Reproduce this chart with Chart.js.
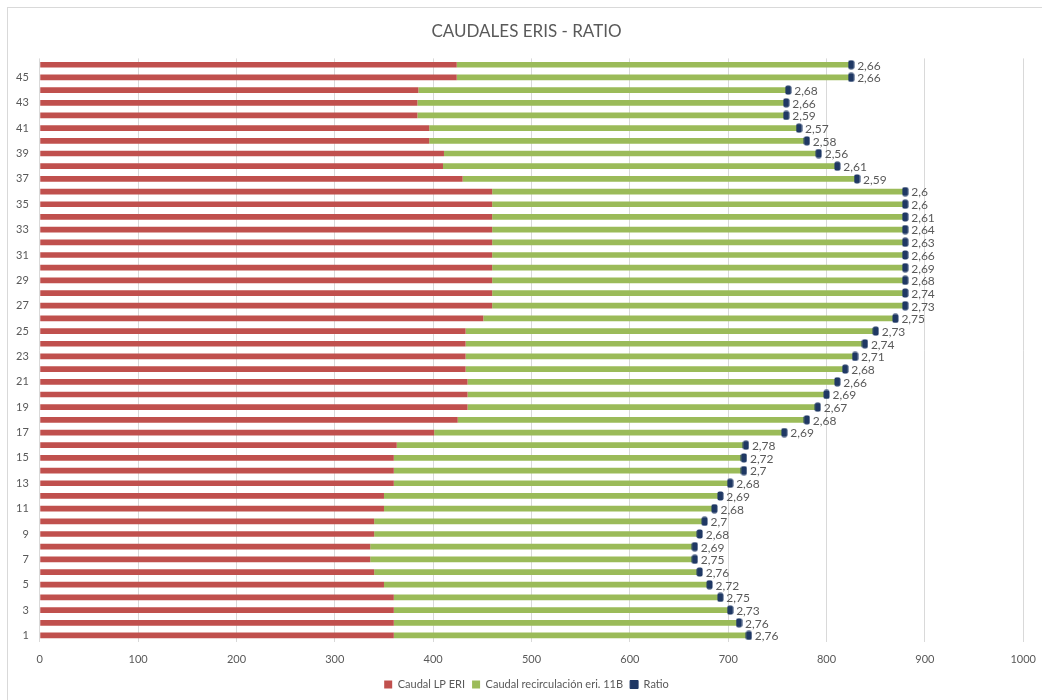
<!DOCTYPE html>
<html>
<head>
<meta charset="utf-8">
<script src="https://cdn.jsdelivr.net/npm/chart.js@4.4.1/dist/chart.umd.min.js"></script>
<style>
  body { margin: 0; background: #fff; overflow: hidden; }
  #frame { position: absolute; left: 7px; top: 7px; width: 1100px; height: 1100px; border: 1px solid #d9d9d9; }
  #wrap { position: absolute; left: 0; top: 0; width: 1042px; height: 700px; }
</style>
</head>
<body>
<div id="frame"></div>
<div id="wrap"><canvas id="caudalChart"></canvas></div>
<script>
const labels = [];
for (let i = 1; i <= 46; i++) labels.push(String(i));

// Caudal LP ERI (red segment)
const caudalLP = [360, 360, 360, 360, 350, 340, 336, 336, 340, 340,
  350, 350, 360, 360, 360, 363, 401, 425, 435, 435,
  435, 433, 433, 433, 433, 451, 460, 460, 460, 460,
  460, 460, 460, 460, 460, 460, 430, 410, 411, 396,
  396, 384, 384, 385, 424, 424];

// Caudal recirculación eri. 11B (green segment)
const caudalRecirc = [361, 351, 342, 332, 331, 331, 330, 330, 331, 336,
  336, 342, 342, 356, 356, 355, 356, 355, 356, 365,
  376, 386, 396, 406, 417, 419, 420, 420, 420, 420,
  420, 420, 420, 420, 420, 420, 401, 401, 381, 384,
  376, 375, 375, 376, 401, 401];

const ratio = [2.76, 2.76, 2.73, 2.75, 2.72, 2.76, 2.75, 2.69, 2.68, 2.7,
  2.68, 2.69, 2.68, 2.7, 2.72, 2.78, 2.69, 2.68, 2.67, 2.69,
  2.66, 2.68, 2.71, 2.74, 2.73, 2.75, 2.73, 2.74, 2.68, 2.69,
  2.66, 2.63, 2.64, 2.61, 2.6, 2.6, 2.59, 2.61, 2.56, 2.58,
  2.57, 2.59, 2.66, 2.68, 2.66, 2.66];

const xTicks = [0, 100, 200, 300, 400, 500, 600, 700, 800, 900, 1000];

// marker sits at the end of the stacked bar
const ratioPos = caudalLP.map((v, i) => v + caudalRecirc[i]);

const grey = '#595959';
const navy = '#1f3864';
const font = 'Lato, "Open Sans", sans-serif';

const marker = document.createElement('canvas');
marker.width = 7;
marker.height = 10;
(function () {
  const c = marker.getContext('2d');
  c.fillStyle = navy;
  c.beginPath();
  c.roundRect(0.5, 0.5, 6, 9, 2);
  c.fill();
})();

const ratioLabels = {
  id: 'ratioLabels',
  afterDatasetsDraw(chart) {
    const meta = chart.getDatasetMeta(2);
    const ctx = chart.ctx;
    ctx.save();
    ctx.font = '12px ' + font;
    ctx.fillStyle = grey;
    ctx.textAlign = 'left';
    ctx.textBaseline = 'middle';
    meta.data.forEach((pt, i) => {
      ctx.fillText(String(ratio[i]).replace('.', ','), pt.x + 6, pt.y + 1);
    });
    ctx.restore();
  }
};

const data = {
  labels: labels,
  datasets: [
    {
      label: 'Caudal LP ERI',
      data: caudalLP,
      backgroundColor: '#c0504d',
      categoryPercentage: 0.45,
      barPercentage: 1,
      order: 1,
    },
    {
      label: 'Caudal recirculación eri. 11B',
      data: caudalRecirc,
      backgroundColor: '#9bbb59',
      categoryPercentage: 0.45,
      barPercentage: 1,
      order: 1,
    },
    {
      type: 'line',
      label: 'Ratio',
      indexAxis: 'y',
      data: ratioPos,
      showLine: false,
      pointStyle: marker,
      backgroundColor: navy,
      borderColor: navy,
      borderWidth: 1,
      order: 0,
    },
  ],
};

const config = {
  type: 'bar',
  data: data,
  options: {
    indexAxis: 'y',
    responsive: true,
    maintainAspectRatio: false,
    animation: false,
    layout: { padding: { left: 13, right: 2, top: 6, bottom: 0 } },
    plugins: {
      title: {
        display: true,
        text: 'CAUDALES ERIS - RATIO',
        color: grey,
        font: { family: font, size: 17, weight: 'normal' },
        padding: { top: 15, bottom: 17 },
      },
      legend: {
        position: 'bottom',
        labels: {
          color: grey,
          boxWidth: 8,
          boxHeight: 8,
          padding: 7,
          font: { family: font, size: 11 },
          generateLabels: (chart) => Chart.defaults.plugins.legend.labels.generateLabels(chart)
            .sort((a, b) => a.datasetIndex - b.datasetIndex),
        },
      },
      tooltip: { enabled: false },
    },
    scales: {
      x: {
        stacked: true,
        min: 0,
        max: 1000,
        afterBuildTicks: (axis) => { axis.ticks = xTicks.map(v => ({ value: v })); },
        grid: { color: '#d9d9d9', drawTicks: true, tickLength: 5, tickColor: 'rgba(0,0,0,0)' },
        border: { display: false },
        ticks: {
          color: grey,
          padding: 6,
          font: { family: font, size: 11 },
          callback: (v) => String(v),
        },
      },
      y: {
        stacked: true,
        reverse: true,
        grid: { display: false },
        border: { display: false },
        ticks: {
          autoSkip: false,
          color: grey,
          padding: 3,
          font: { family: font, size: 11 },
          callback: (v, i) => (i % 2 === 0 ? labels[i] : ''),
        },
      },
    },
  },
  plugins: [ratioLabels],
};

const caudalChart = new Chart(document.getElementById('caudalChart'), config);
</script>
</body>
</html>
